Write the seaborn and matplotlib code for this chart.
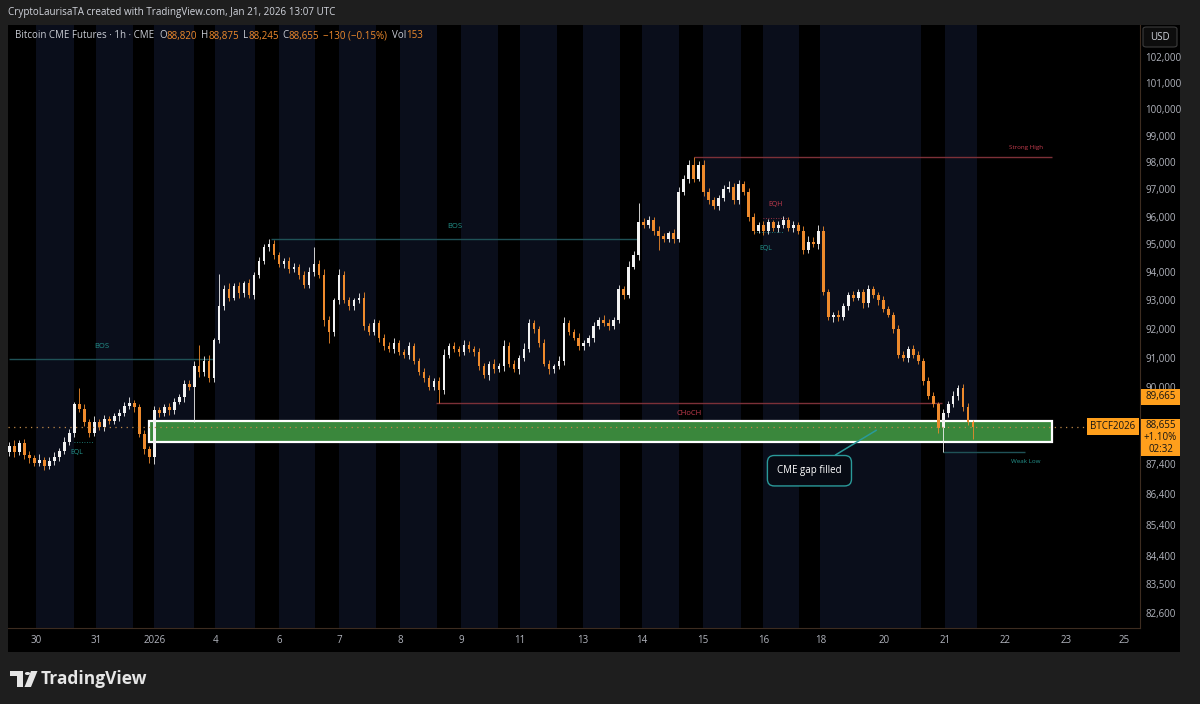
import matplotlib
matplotlib.use("Agg")
import matplotlib.pyplot as plt
import matplotlib.patches as mpatches
import matplotlib.ticker as mticker
import seaborn as sns
import pandas as pd

sns.set_theme(style="dark")
plt.rcParams['font.family'] = ['Open Sans', 'DejaVu Sans']

# ---- data (1 bar ~ 5 px, bar 0 at the left edge) ----
first_open = 87800
closes = [
    88000, 87800, 88100, 87700, 87600, 87450, 87550, 87350, 87500, 87650,
    87850, 88150, 88450, 89400, 89250, 88800, 88450, 88800, 88650, 88900,
    88850, 89000, 89100, 89350, 89450, 89300, 88400, 87900, 87650, 89200,
    89100, 89300, 89200, 89500, 89650, 90100, 90000, 90700, 90500, 90900,
    90300, 91600, 92800, 93400, 93100, 93500, 93250, 93600, 93200, 93900,
    94400, 94900, 95000, 94600, 94300, 94400, 94100, 94200, 93900, 93550,
    94000, 94300, 93900, 92300, 91900, 93000, 93900, 93000, 92800, 93000,
    93100, 92100, 91900, 92200, 91700, 91400, 91300, 91500, 91200, 91100,
    91400, 90900, 90500, 90300, 90000, 90200, 89900, 91100, 91400, 91300,
    91200, 91450, 91300, 91200, 90700, 90400, 90800, 90600, 90700, 91400,
    90800, 90600, 91000, 91300, 92200, 92000, 91500, 90800, 90600, 90700,
    90900, 92200, 91900, 91700, 91400, 91500, 91700, 92100, 92300, 92200,
    92100, 92300, 93400, 93200, 94200, 94600, 95800, 95700, 95900, 95500,
    95300, 95200, 95400, 95200, 96900, 97400, 97900, 97400, 97900, 96900,
    96600, 96400, 96700, 97000, 97100, 96600, 97200, 96900, 96000, 95500,
    95700, 95500, 95800, 95600, 95700, 95900, 95600, 95700, 95500, 94800,
    95100, 95000, 95500, 93300, 92400, 92500, 92400, 92800, 93200, 93100,
    93300, 92900, 93400, 93200, 93000, 92700, 92500, 92000, 91100, 91000,
    91300, 91100, 90900, 90200, 89700, 89400, 88600, 89100, 89400, 89700,
    89950, 89300, 88820, 88655]
wick_up = [
    150, 200, 100, 150, 120, 100, 180, 100, 120, 150,
    100, 150, 120, 100, 550, 150, 120, 200, 100, 150,
    120, 100, 150, 120, 200, 100, 120, 150, 100, 150,
    120, 100, 150, 120, 100, 150, 120, 200, 750, 150,
    200, 100, 1150, 150, 200, 120, 150, 100, 150, 120,
    150, 100, 200, 150, 120, 100, 150, 120, 100, 150,
    200, 600, 150, 200, 150, 100, 200, 150, 120, 100,
    150, 200, 120, 150, 100, 120, 150, 200, 120, 100,
    150, 120, 100, 150, 120, 100, 150, 200, 120, 150,
    100, 150, 120, 100, 150, 120, 100, 150, 120, 200,
    150, 120, 100, 200, 150, 120, 100, 150, 120, 100,
    150, 200, 120, 100, 150, 120, 100, 150, 120, 200,
    150, 100, 150, 120, 200, 150, 700, 150, 120, 100,
    150, 120, 100, 150, 200, 150, 200, 300, 150, 200,
    150, 120, 100, 150, 200, 120, 150, 100, 150, 120,
    100, 150, 120, 100, 150, 120, 100, 150, 120, 150,
    200, 150, 200, 150, 120, 100, 150, 120, 100, 150,
    120, 100, 150, 120, 100, 150, 120, 100, 150, 120,
    100, 150, 120, 100, 150, 120, 100, 150, 120, 150,
    100, 150, 150, 55]
wick_dn = [
    120, 150, 100, 120, 150, 100, 120, 150, 100, 120,
    150, 100, 120, 150, 100, 120, 150, 100, 120, 150,
    100, 120, 150, 100, 120, 150, 100, 150, 200, 250,
    120, 100, 150, 120, 100, 150, 120, 1200, 150, 120,
    150, 120, 100, 150, 120, 100, 150, 120, 100, 150,
    120, 100, 150, 120, 100, 150, 120, 100, 150, 120,
    100, 150, 120, 200, 400, 150, 120, 100, 150, 120,
    100, 150, 120, 100, 150, 120, 100, 150, 120, 100,
    150, 120, 100, 150, 120, 100, 450, 150, 120, 100,
    150, 120, 100, 150, 120, 100, 150, 120, 100, 150,
    120, 100, 150, 120, 100, 150, 120, 100, 150, 120,
    100, 150, 120, 100, 150, 120, 100, 150, 120, 100,
    150, 120, 100, 150, 120, 100, 150, 120, 100, 150,
    500, 120, 100, 150, 120, 100, 150, 120, 100, 150,
    120, 100, 150, 120, 100, 150, 120, 100, 150, 120,
    100, 150, 120, 100, 150, 120, 100, 150, 120, 150,
    120, 100, 150, 120, 100, 150, 120, 100, 150, 120,
    100, 150, 120, 100, 150, 120, 100, 150, 120, 100,
    150, 120, 100, 150, 120, 100, 150, 800, 120, 100,
    150, 120, 100, 410]

# sessions (bar units) and date ticks
session_start = [5.4, 17.4, 29.0, 41.2, 54.0, 66.0, 78.2, 90.4, 102.2, 114.8,
                 126.6, 138.8, 151.0, 162.4, 187.4]
session_end = [13.0, 24.8, 37.0, 49.2, 61.2, 73.4, 85.6, 97.8, 109.6, 122.2,
               134.0, 146.4, 158.2, 182.6, 193.8]
date_ticks = [5.4, 17.4, 29.0, 41.2, 54.0, 66.0, 78.2, 90.4, 102.2, 114.8,
              126.6, 138.8, 151.0, 162.4, 175.2, 187.4, 199.4, 211.6, 223.2]
date_labels = ['30', '31', '2026', '4', '6', '7', '8', '9', '11', '13',
               '14', '15', '16', '18', '20', '21', '22', '23', '25']
price_ticks = [102000, 101000, 100000, 99000, 98000, 97000, 96000, 95000, 94000,
               93000, 92000, 91000, 90000, 87400, 86400, 85400, 84400, 83500, 82600]

# structure levels
bos1 = (90950, 0, 41)
bos2 = (95200, 52.4, 125.8)
choch = (89450, 85.4, 186.8)
strong_high = (98200, 137, 208.8)
weak_low = (87800, 187, 203.4)
gap_low, gap_high, gap_x0, gap_x1 = 88130, 88830, 28, 208.8
last_price, prev_price, pct_change = 88655, 89665, '+1.10%'

UP = '#f2f2f2'
DOWN = '#ee8a2c'
NAVY = '#0a0e1b'
TEAL_LINE = '#1f5257'
TEAL_TXT = '#23928b'
RED_LINE = '#7c3038'
RED_TXT = '#c23b4d'
ORANGE_TAG = '#ff9f1c'
AXIS_TXT = '#b2b5be'

opens = [first_open] + closes[:-1]
df = pd.DataFrame({'open': opens, 'close': closes, 'up': wick_up, 'dn': wick_dn})
df['bar'] = range(len(df))
df['high'] = df[['open', 'close']].max(axis=1) + df['up']
df['low'] = df[['open', 'close']].min(axis=1) - df['dn']
df['rising'] = df['close'] >= df['open']
df['color'] = df['rising'].map({True: UP, False: DOWN})
df['body_lo'] = df[['open', 'close']].min(axis=1)
df['body_h'] = (df['close'] - df['open']).abs().clip(lower=20)

W, H = 1200, 704
fig = plt.figure(figsize=(12, 7.04), dpi=100, facecolor='#1e1e1e')


def fx(px):
    return px / W


def fy(py):
    return 1 - py / H


# black chart panel behind everything
fig.patches.append(mpatches.Rectangle((fx(8), fy(652)), fx(1180) - fx(8), fy(25) - fy(652),
                                      transform=fig.transFigure, facecolor='black',
                                      edgecolor='none', zorder=-5))

ax = fig.add_axes([fx(8), fy(628), fx(1140) - fx(8), fy(25) - fy(628)])
ax.set_zorder(1)
ax.set_facecolor('black')
ax.set_yscale('log')
ax.set_ylim(82129, 103246)
ax.set_xlim(-0.3, 226.4)
ax.grid(False)

for s, e in zip(session_start, session_end):
    ax.axvspan(s, e, color=NAVY, lw=0, zorder=0)

# candles
ax.vlines(df['bar'], df['low'], df['high'], colors=df['color'], lw=0.6, zorder=3)
ax.bar(df['bar'], df['body_h'], bottom=df['body_lo'], width=0.5,
       color=df['color'], linewidth=0, zorder=4)

# gap box
ax.add_patch(mpatches.Rectangle((gap_x0, gap_low), gap_x1 - gap_x0, gap_high - gap_low,
                                facecolor='#3a873c', edgecolor='white', lw=1.6, zorder=2))

# structure lines
ax.hlines(bos1[0], bos1[1], bos1[2], color=TEAL_LINE, lw=1, zorder=1)
ax.text((bos1[1] + bos1[2]) / 2 - 2, 91400, 'BOS', color=TEAL_TXT, fontsize=5.5, ha='center', va='center')
ax.hlines(bos2[0], bos2[1], bos2[2], color=TEAL_LINE, lw=1, zorder=1)
ax.text((bos2[1] + bos2[2]) / 2, 95650, 'BOS', color=TEAL_TXT, fontsize=5.5, ha='center', va='center')
ax.hlines(choch[0], choch[1], choch[2], color=RED_LINE, lw=1, zorder=1)
ax.text((choch[1] + choch[2]) / 2, 89080, 'CHoCH', color=RED_TXT, fontsize=5.5, ha='center', va='center')
ax.hlines(strong_high[0], strong_high[1], strong_high[2], color=RED_LINE, lw=1, zorder=1)
ax.text(203.6, 98560, 'Strong High', color=RED_TXT, fontsize=4.5, ha='center', va='center')
ax.hlines(weak_low[0], weak_low[1], weak_low[2], color=TEAL_LINE, lw=1, zorder=1)
ax.text(203.6, 87480, 'Weak Low', color=TEAL_TXT, fontsize=4.5, ha='center', va='center')

# equal highs / lows
ax.hlines(88150, 13, 17, color=TEAL_TXT, lw=0.6, linestyles=(0, (1, 2)), zorder=1)
ax.text(13.4, 87800, 'EQL', color=TEAL_TXT, fontsize=5, ha='center', va='center')
ax.hlines(95950, 151, 156, color=RED_TXT, lw=0.6, linestyles=(0, (1, 2)), zorder=1)
ax.text(153.4, 96450, 'EQH', color=RED_TXT, fontsize=5, ha='center', va='center')
ax.hlines(95450, 149, 155, color=TEAL_TXT, lw=0.6, linestyles=(0, (1, 2)), zorder=1)
ax.text(151.4, 94850, 'EQL', color=TEAL_TXT, fontsize=5, ha='center', va='center')

# current price line
ax.hlines(last_price, -0.3, 215.4, color='#c08a4a', lw=0.9, linestyles=(0, (1, 3.5)), zorder=5)

# callout
ax.annotate('CME gap filled', xy=(173.6, 88530), xytext=(160.2, 87180), textcoords='data',
            color='white', fontsize=7, ha='center', va='center', zorder=6,
            bbox=dict(boxstyle='round,pad=1.0,rounding_size=0.7', fc='#070b14', ec='#2a9a9a', lw=1),
            arrowprops=dict(arrowstyle='-', color='#2a9a9a', lw=1.1, shrinkA=0, shrinkB=0))

# axes styling
ax.yaxis.tick_right()
ax.set_yticks(price_ticks)
ax.set_yticklabels([f'{v:,}' for v in price_ticks])
ax.yaxis.set_minor_locator(mticker.NullLocator())
ax.set_xticks(date_ticks)
ax.set_xticklabels(date_labels)
ax.tick_params(axis='y', length=0, pad=4, labelsize=7, labelcolor=AXIS_TXT)
ax.tick_params(axis='x', length=0, pad=5, labelsize=7, labelcolor=AXIS_TXT)
for side in ['top', 'left']:
    ax.spines[side].set_visible(False)
for side in ['bottom', 'right']:
    ax.spines[side].set_color('#3d2c20')
    ax.spines[side].set_linewidth(0.8)


def price_px(price):
    return ax.transData.transform((0, price))[1]


def tag(x0, x1, ycen, h, text, size=7):
    y0 = ycen - h / 2
    fig.patches.append(mpatches.Rectangle((x0 / W, y0 / H), (x1 - x0) / W, h / H,
                                          transform=fig.transFigure, facecolor=ORANGE_TAG,
                                          edgecolor='none', zorder=10))
    fig.text((x0 + x1) / 2 / W, ycen / H, text, color='#141414', fontsize=size,
             ha='center', va='center', zorder=11, linespacing=1.15)


# price tags on the right
yp = price_px(prev_price)
tag(1141, 1180, yp, 16, f'{prev_price:,}')
yl = price_px(last_price)
tag(1141, 1180, yl - 11, 37, f'{last_price:,}\n{pct_change}\n02:32')
tag(1087, 1139, yl, 17, 'BTCF2026')

# USD box
fig.patches.append(mpatches.FancyBboxPatch((fx(1143), fy(47)), fx(1177) - fx(1143), fy(27) - fy(47),
                                           boxstyle='round,pad=0,rounding_size=0.003',
                                           transform=fig.transFigure, facecolor='#0d0d0d',
                                           edgecolor='#3c3c3c', lw=0.8, zorder=10))
fig.text(fx(1160), fy(37), 'USD', color='#d1d4dc', fontsize=7, ha='center', va='center', zorder=11)

# titles
fig.text(fx(8), fy(12), 'CryptoLaurisaTA created with TradingView.com, Jan 21, 2026 13:07 UTC',
         color='#d1d4dc', fontsize=7.1, ha='left', va='center')

GREY = '#c9ccd4'
ORG = '#ef8a2c'
pieces = [('Bitcoin CME Futures · 1h · CME', GREY, 5), ('O', GREY, 0), ('88,820', ORG, 4),
          ('H', GREY, 0), ('88,875', ORG, 4), ('L', GREY, 0), ('88,245', ORG, 4),
          ('C', GREY, 0), ('88,655', ORG, 4), ('\u2212130 (\u22120.15%)', ORG, 5),
          ('Vol', GREY, 0), ('153', ORG, 0)]
renderer = fig.canvas.get_renderer()
xpos = 15
for s, c, gap in pieces:
    t = fig.text(fx(xpos), fy(36), s, color=c, fontsize=7, ha='left', va='center', zorder=11)
    xpos += t.get_window_extent(renderer=renderer).width + gap

# footer logo
LOGO = '#e6e6e6'
fig.patches.append(mpatches.Rectangle((fx(10), fy(676)), fx(23) - fx(10), fy(671) - fy(676),
                                      transform=fig.transFigure, facecolor=LOGO, edgecolor='none'))
fig.patches.append(mpatches.Rectangle((fx(17), fy(687)), fx(23) - fx(17), fy(671) - fy(687),
                                      transform=fig.transFigure, facecolor=LOGO, edgecolor='none'))
fig.patches.append(mpatches.Circle((fx(27.5), fy(673.5)), 2.6 / W, transform=fig.transFigure,
                                   facecolor=LOGO, edgecolor='none'))
fig.patches.append(mpatches.Polygon([(fx(31), fy(671)), (fx(37.5), fy(671)), (fx(31), fy(687)),
                                     (fx(24.5), fy(687))], closed=True, transform=fig.transFigure,
                                    facecolor=LOGO, edgecolor='none'))
fig.text(fx(41), fy(679), 'TradingView', color=LOGO, fontsize=12.5, fontweight='bold',
         ha='left', va='center')

fig.savefig('out.png', dpi=100, facecolor=fig.get_facecolor())
